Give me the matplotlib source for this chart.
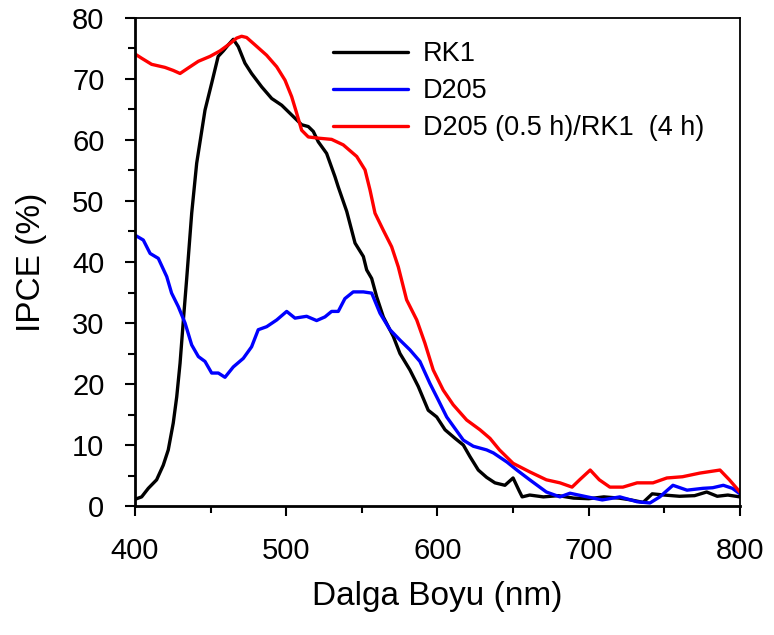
import matplotlib
matplotlib.use("Agg")
import matplotlib.pyplot as plt
from matplotlib.ticker import MultipleLocator

plt.rcParams['font.family'] = ['Liberation Sans', 'DejaVu Sans']

# RK1
rk1_x = [400, 404.4, 408.8, 414.3, 418.7, 422, 425.3, 427.6, 429.8, 432, 434.2,
         437.5, 440.8, 446.3, 450.7, 455, 458.4, 461.7, 465, 468.3, 472.7, 477.1,
         483.8, 490.4, 497, 503.6, 510.2, 514.6, 517.9, 521.2, 526.7, 532.2, 534.4,
         540, 545.5, 551, 553.2, 556.5, 559.8, 564.2, 570.8, 575.2, 581.8, 587.3,
         593.9, 599.5, 605, 611.6, 617.1, 621.5, 627, 632.5, 638, 644.6, 650, 654,
         656, 661, 670, 680, 690, 700, 710, 720, 728, 736, 742, 750, 760, 770, 778,
         785, 792, 800]
rk1_y = [1.1, 1.5, 2.9, 4.3, 6.7, 9.2, 13.6, 17.9, 23.4, 30.5, 37.3,
         48, 56.2, 64.9, 69.3, 73.7, 74.6, 75.6, 76.5, 75.3, 72.6, 70.9,
         68.7, 66.8, 65.7, 64.1, 62.5, 62.2, 61.4, 59.7, 57.8, 54, 52.3,
         48.3, 43.1, 40.9, 38.7, 37.3, 34.3, 31, 27.8, 25, 22.3, 19.6,
         15.7, 14.6, 12.5, 11.1, 10, 8.1, 5.9, 4.7, 3.8, 3.4, 4.6, 2.5,
         1.5, 1.8, 1.5, 1.7, 1.3, 1.2, 1.5, 1.3, 1.0, 0.6, 2.0, 1.8, 1.6, 1.7, 2.3,
         1.6, 1.8, 1.5]

# D205
d205_x = [400, 405.5, 410, 415.4, 421, 424.2, 428.6, 433.1, 437.5, 441.9, 446.3,
          450.7, 455.1, 459.5, 465, 471.6, 477.1, 481.5, 487.1, 493.7, 500.3, 505.8,
          513.5, 520.1, 525.6, 530, 534.4, 538.8, 544.3, 551, 556.5, 562, 568.6,
          575.2, 581.8, 588.4, 595, 600.5, 606.1, 611.6, 617.1, 623.7, 632.5, 637,
          646, 652.5, 661, 672, 681, 687.6, 699, 709, 720.6, 732, 740.5, 747, 755.7,
          765, 775.5, 782, 789, 795, 800]
d205_y = [44.4, 43.6, 41.4, 40.6, 37.6, 34.9, 32.7, 30, 26.4, 24.5, 23.7,
          21.8, 21.8, 21.1, 22.8, 24.2, 26.1, 28.9, 29.4, 30.5, 31.9, 30.8,
          31.1, 30.4, 31, 31.9, 31.9, 34, 35.1, 35.1, 34.9, 31.6, 28.9,
          27.2, 25.6, 23.7, 20.1, 17.4, 14.6, 12.7, 10.8, 9.8, 9.2, 8.7,
          7.2, 5.9, 4.3, 2.3, 1.5, 2.1, 1.5, 1.0, 1.5, 0.7, 0.5, 1.5, 3.4,
          2.6, 2.9, 3.0, 3.4, 2.9, 2.0]

# D205 (0.5 h)/RK1 (4 h)
combo_x = [400, 404.4, 411, 419.8, 425.3, 429.8, 435.2, 441.9, 449.6, 456.2, 462.8,
           467.2, 470.5, 473.8, 479.3, 487, 493.7, 499.2, 503.6, 506.9, 510.2, 514.6,
           521.2, 530, 537.7, 546.6, 552.1, 555.4, 558.7, 564.2, 569.7, 574.1, 579.6,
           586.3, 591.7, 597.2, 603.8, 610.4, 619.3, 628.1, 634.7, 641, 650, 661, 672,
           681, 689, 694, 701, 707, 714, 722.6, 732, 742.5, 751.7, 762, 773.5, 786.8,
           793, 800]
combo_y = [74.1, 73.4, 72.4, 71.9, 71.4, 70.9, 71.8, 72.9, 73.7, 74.6, 75.8,
           76.7, 77, 76.8, 75.6, 73.9, 72, 69.8, 67.1, 64.4, 61.6, 60.5,
           60.3, 60.1, 59.2, 57.3, 55.1, 51.8, 48, 45.2, 42.5, 39.2, 33.8,
           30.5, 26.7, 22.3, 19, 16.6, 14.1, 12.5, 11.1, 9.2, 7, 5.6, 4.3,
           3.8, 3.1, 4.3, 5.9, 4.3, 3.1, 3.1, 3.8, 3.8, 4.6, 4.8, 5.4, 5.9,
           4.3, 2.3]

fig = plt.figure(figsize=(7.74, 6.35), dpi=100)
ax = fig.add_axes([0.1744, 0.2031, 0.7816, 0.7686])

style = dict(lw=2.4, solid_joinstyle='round', solid_capstyle='round')
ax.plot(rk1_x, rk1_y, color='black', label='RK1', **style)
ax.plot(d205_x, d205_y, color='#0000ff', label='D205', **style)
ax.plot(combo_x, combo_y, color='#ff0000', label='D205 (0.5 h)/RK1  (4 h)', **style)

ax.set_xlim(400, 800)
ax.set_ylim(0, 80)
ax.xaxis.set_major_locator(MultipleLocator(100))
ax.xaxis.set_minor_locator(MultipleLocator(50))
ax.yaxis.set_major_locator(MultipleLocator(10))
ax.yaxis.set_minor_locator(MultipleLocator(5))
ax.tick_params(which='major', direction='out', length=7, width=1.5,
               labelsize=21, pad=15)
ax.tick_params(which='minor', direction='out', length=5, width=1.5)
ax.tick_params(top=False, right=False, which='both')
for s in ['left', 'bottom']:
    ax.spines[s].set_linewidth(2)
for s in ['top', 'right']:
    ax.spines[s].set_linewidth(1.3)

ax.set_xlabel('Dalga Boyu (nm)', fontsize=24, labelpad=12)
ax.set_ylabel('IPCE (%)', fontsize=24, labelpad=18)

ax.legend(loc='upper left', bbox_to_anchor=(0.327, 0.952), frameon=False,
          fontsize=19.5, handlelength=2.78, handletextpad=0.55,
          labelspacing=0.4, borderpad=0, borderaxespad=0)

fig.savefig('out.png', dpi=100)
